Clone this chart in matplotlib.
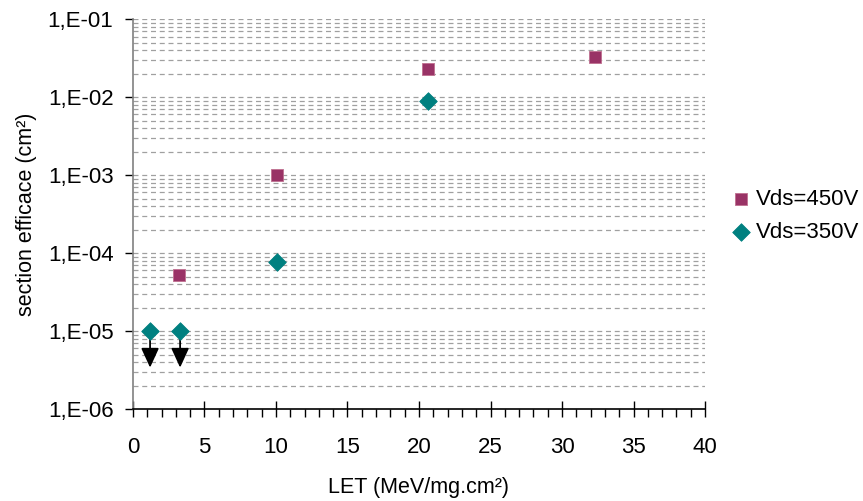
import numpy as np
import matplotlib
matplotlib.use("Agg")
import matplotlib.pyplot as plt
from matplotlib.ticker import FixedLocator, FuncFormatter, MultipleLocator

plt.rcParams['font.family'] = ['Liberation Sans', 'DejaVu Sans']

# data
let_450 = [3.2, 10.1, 20.6, 32.3]
sigma_450 = [5.2e-5, 1.0e-3, 2.3e-2, 3.25e-2]
let_350 = [1.2, 3.3, 10.1, 20.6]
sigma_350 = [1.0e-5, 1.0e-5, 7.7e-5, 9.0e-3]
# upper limits (no event seen) -> arrows downward
limit_x = [1.2, 3.3]
limit_y = [1.0e-5, 1.0e-5]
limit_tip = [3.4e-6, 3.4e-6]

purple = '#993366'
teal = '#008080'

fig = plt.figure(figsize=(8.63, 5.01), dpi=100)
ax = fig.add_axes([0.154, 0.1836, 0.663, 0.778])

ax.set_yscale('log')
ax.set_xlim(0, 40)
ax.set_ylim(1e-6, 1e-1)

# dashed grid at every minor/major log position
grid_vals = [m * 10.0 ** e for e in range(-6, -1) for m in range(1, 10)] + [1e-1]
for g in grid_vals[1:]:
    ax.axhline(g, color='#a0a0a0', lw=0.9, ls=(0, (4, 3)), zorder=0)

for x0, y0, y1 in zip(limit_x, limit_y, limit_tip):
    ax.annotate('', xy=(x0, y1), xytext=(x0, y0),
                arrowprops=dict(arrowstyle='-|>,head_width=0.55,head_length=1.2',
                                color='black', lw=1.3, shrinkA=0, shrinkB=0),
                zorder=2)

ax.scatter(let_450, sigma_450, marker='s', s=75, color=purple,
           edgecolor='#c07090', lw=0.6, label='Vds=450V', zorder=3)
ax.scatter(let_350, sigma_350, marker='D', s=80, color=teal,
           edgecolor=teal, lw=0.6, label='Vds=350V', zorder=3)

ax.yaxis.set_major_locator(FixedLocator([1e-6, 1e-5, 1e-4, 1e-3, 1e-2, 1e-1]))
ax.yaxis.set_minor_locator(FixedLocator([]))
ax.yaxis.set_major_formatter(FuncFormatter(lambda v, p: '1,E-%02d' % round(-np.log10(v))))
ax.xaxis.set_major_locator(MultipleLocator(5))
ax.xaxis.set_minor_locator(MultipleLocator(1))

ax.tick_params(axis='y', which='major', direction='out', length=6, width=1,
               labelsize=16, pad=8, color='black')
ax.tick_params(axis='x', which='major', direction='inout', length=11, width=1,
               labelsize=16, pad=15)
ax.tick_params(axis='x', which='minor', direction='out', length=6, width=1)

for side in ['top', 'right']:
    ax.spines[side].set_visible(False)
ax.spines['left'].set_color('#808080')
ax.spines['left'].set_linewidth(1.2)
ax.spines['bottom'].set_color('black')
ax.spines['bottom'].set_linewidth(1.2)

ax.set_xlabel('LET (MeV/mg.cm²)', fontsize=15.5, labelpad=13)
ax.set_ylabel('section efficace (cm²)', fontsize=15.5, labelpad=8)

leg = ax.legend(loc='center left', bbox_to_anchor=(1.024, 0.495), frameon=False,
                fontsize=16, handletextpad=0.05, labelspacing=0.55,
                handlelength=1.2, borderaxespad=0)

fig.savefig('out.png', dpi=100)
